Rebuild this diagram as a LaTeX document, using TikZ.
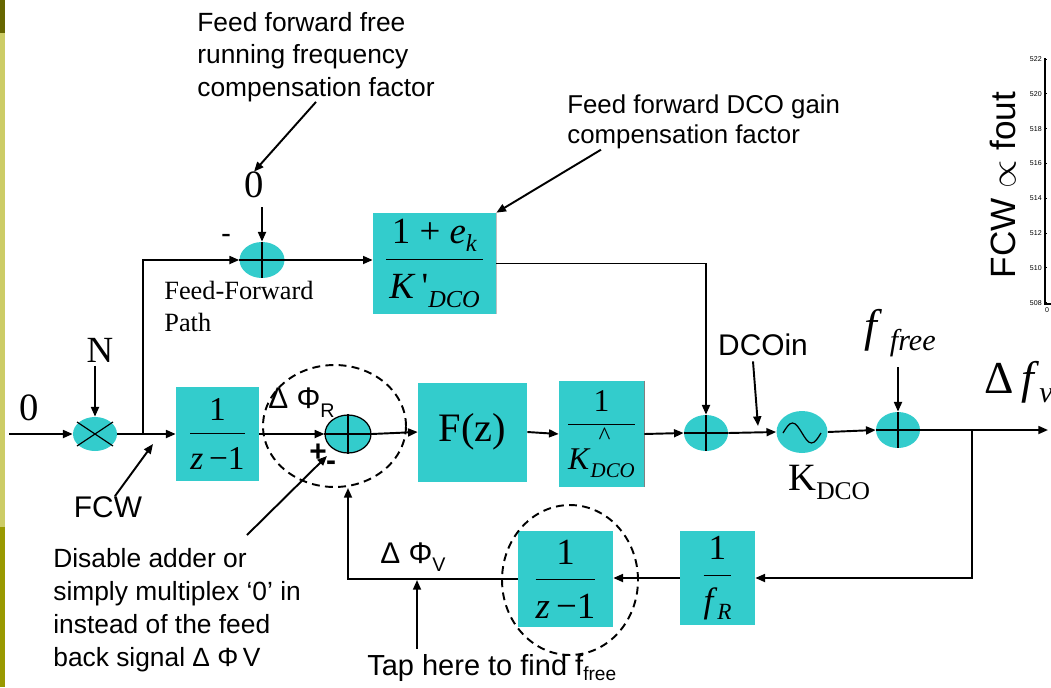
\documentclass[tikz,border=0pt]{standalone}
\usepackage{amsmath}
\usepackage{fontspec}
\setmainfont{Liberation Sans}
\newfontfamily\tms{Liberation Serif}
\usepackage{tikz}
\usetikzlibrary{arrows.meta,shapes.geometric}

\definecolor{boxcyan}{HTML}{33CCCC}
\definecolor{bardark}{HTML}{666600}
\definecolor{barlight}{HTML}{CCCC66}
\definecolor{barmid}{HTML}{999900}

\newcommand{\sz}[2]{\fontsize{#1}{#2}\selectfont}
\newcommand{\dn}[2][0.2em]{\raisebox{-#1}{\scalebox{0.66}{#2}}}
\newcommand{\bfrac}[3][0.12em]{$\genfrac{}{}{0.6pt}{0}%
  {\mbox{\hspace{#1}\rule[-0.22em]{0pt}{0.22em}#2\hspace{#1}}}{\mbox{\rule{0pt}{0.95em}#3}}$}
\newcommand{\sumcross}[1]{\draw[crossln] (#1.west) -- (#1.east) (#1.north) -- (#1.south);}

\tikzset{
  blk/.style={fill=boxcyan, inner sep=0pt},
  sumnode/.style={ellipse, fill=boxcyan, inner sep=0pt, minimum width=0.88cm, minimum height=0.72cm},
  grp/.style={ellipse, draw, dash pattern=on 4.5pt off 3pt, line width=1.1pt, inner sep=0pt},
  lbl/.style={inner sep=0pt},
  crossln/.style={line width=0.7pt},
  wire/.style={line width=1.1pt, -{Triangle[length=5.5pt,width=4.5pt]}},
}

\begin{document}
\begin{tikzpicture}[x=0.02cm, y=-0.02cm]
  \useasboundingbox (0,0) rectangle (1051,687);

  % Slide bar
  \fill[bardark] (0,0) rectangle (5,33);
  \fill[barlight] (0,33) rectangle (5,527);
  \fill[barmid] (0,527) rectangle (5,687);

  % Blocks
  \node[blk, minimum width=2.46cm, minimum height=2.02cm, font=\tms\sz{21}{25}] (ffbox) at (434.5,263.5)
    {\bfrac[0.15em]{1 + \textit{e}\dn{\textit{k}}}{\textit{K}\,\textquotesingle\dn[0.25em]{\textit{DCO}}}};
  \draw[gray!50, line width=0.8pt] (ffbox.north east) -- (ffbox.south east);
  \node[blk, minimum width=1.66cm, minimum height=1.88cm, font=\tms\sz{19}{22}] (intbox) at (217.5,434)
    {\bfrac{1}{\textit{z}\,−1}};
  \node[blk, minimum width=2.18cm, minimum height=1.98cm, font=\tms\sz{23}{27}] (filt) at (472.5,432) {F(z)};
  \node[blk, minimum width=1.70cm, minimum height=2.12cm, font=\tms\sz{18}{21}] (gainbox) at (601.5,434)
    {\bfrac{1}{\textit{K}\makebox[0pt][l]{\hspace{0.25em}\raisebox{0.8em}{\scalebox{0.8}{\textasciicircum}}}\dn[0.25em]{\textit{DCO}}}};
  \draw[gray, line width=0.6pt] (gainbox.north east) -- (gainbox.south east);
  \node[blk, minimum width=1.50cm, minimum height=1.88cm, font=\tms\sz{20}{23}] (frbox) at (717.5,578)
    {\bfrac{1}{\textit{f}\dn{\textit{R}}}};
  \node[blk, minimum width=1.90cm, minimum height=1.92cm, font=\tms\sz{21}{24}] (fbint) at (565.5,579)
    {\bfrac{1}{\textit{z}\,−1}};

  % Summers, multiplier and oscillator
  \node[sumnode, minimum height=0.68cm] (mult) at (95,434) {};
  \draw[crossln] ([shift={(-18,-12)}]mult.center) -- ([shift={(18,12)}]mult.center)
                 ([shift={(-18,12)}]mult.center) -- ([shift={(18,-12)}]mult.center);
  \node[sumnode, minimum width=0.9cm] (ffsum) at (262,260) {};
  \node[sumnode, draw, line width=0.7pt, minimum width=0.92cm, minimum height=0.76cm] (sumR) at (348,434) {};
  \node[sumnode] (sumD) at (706,433) {};
  \node[sumnode, minimum width=1.02cm, minimum height=0.84cm] (osc) at (802,432) {};
  \node[sumnode] (sumF) at (898,430) {};
  \sumcross{ffsum}
  \sumcross{sumR}
  \sumcross{sumD}
  \sumcross{sumF}
  \draw[crossln] ([shift={(-19,1)}]osc.center) sin ++(9.5,-10) cos ++(9.5,10) sin ++(9.5,10) cos ++(9.5,-10);

  % Dashed groups
  \node[grp, minimum width=2.86cm, minimum height=2.44cm] (grpR) at (334.5,426) {};
  \node[grp, minimum width=2.72cm, minimum height=3.0cm] (grpV) at (570,580) {};

  % Signal path
  \coordinate (inStart) at (9,434);
  \coordinate (ffTap) at (143,434);
  \coordinate (outEnd) at (1048,430);
  \coordinate (fbTap) at (972,430);
  \draw[wire] (inStart) -- (mult.west);
  \draw[wire] (mult.east) -- (intbox.west);
  \draw[wire] (ffTap) |- (ffsum.west);
  \draw[wire] (ffsum.east) -- (ffsum.east -| ffbox.west);
  \draw[wire] (ffbox.east) -| (sumD.north);
  \draw[wire] (intbox.east) -- (sumR.west);
  \draw[wire] (sumR.east) -- (filt.west);
  \draw[wire] (filt.east) -- (gainbox.west);
  \draw[wire] (gainbox.east) -- (sumD.west);
  \draw[wire] (sumD.east) -- (osc.west);
  \draw[wire] (osc.east) -- (sumF.west);
  \draw[wire] (sumF.east) -- (outEnd);
  \draw[wire] (fbTap) |- (frbox.east);
  \draw[wire] (frbox.west) -- (frbox.west -| fbint.east);
  \draw[wire] (fbint.west) -| (sumR |- grpR.south);

  % Labels
  \node[lbl, font=\tms\sz{22}{26}] (inZero) at (29,408) {0};
  \node[lbl, font=\tms\sz{21}{25}] (Nlab) at (100,350) {N};
  \node[lbl, font=\tms\sz{22}{26}] (zerotop) at (254,185) {0};
  \node[lbl, font=\sz{17}{20}] (minusFF) at (226,239) {-};
  \node[lbl, anchor=north west, align=left, font=\sz{15}{18.4}] (fftext) at (197,12)
    {Feed forward free\\running frequency\\compensation factor};
  \node[lbl, anchor=north west, align=left, font=\sz{14.7}{17.6}] (gaintext) at (567,94)
    {Feed forward DCO gain\\compensation factor};
  \node[lbl, anchor=north west, align=left, font=\tms\sz{15}{18}] (ffpath) at (164,281) {Feed-Forward\\Path};
  \node[lbl, font=\sz{17}{20}] (fcwlab) at (108,507) {FCW};
  \node[lbl, anchor=base west, font=\sz{17}{20}] (dphiR) at (268,408) {Δ Φ\dn[0.33em]{R}};
  \node[lbl, font=\sz{17}{20}\bfseries] (plusR) at (318,453) {+};
  \node[lbl, font=\sz{17}{20}\bfseries] (minusR) at (331,466) {-};
  \node[lbl, anchor=base west, font=\sz{17}{20}] (dphiV) at (380,563) {Δ Φ\dn[0.3em]{V}};
  \node[lbl, anchor=north west, align=left, font=\sz{15}{18.7}] (distext) at (53,548)
    {Disable adder or\\simply multiplex ‘0’ in\\instead of the feed\\back signal Δ Φ\,V};
  \node[lbl, anchor=north west, font=\sz{16.5}{20}] (taptext) at (367,654) {Tap here to find f\dn[0.18em]{free}};
  \node[lbl, font=\sz{17}{20}] (dcoin) at (763,345) {DCOin};
  \node[lbl, anchor=base west, font=\tms\sz{22}{26}] (kdco) at (788,490) {K\dn[0.25em]{DCO}};
  \node[lbl, anchor=base west, font=\tms\sz{26}{30}] (ffree) at (864,341) {\textit{f}\,\dn{\textit{free}}};
  \node[lbl, anchor=base west, font=\tms\sz{26}{30}] (dfv) at (984,393) {Δ\,\textit{f}\dn{\textit{v}}};
  \node[lbl, rotate=90, font=\sz{20}{24}] (fcwrot) at (1003,185) {FCW $\propto$ fout};

  % Annotation arrows
  \coordinate (fcwPt) at (153,444);
  \coordinate (disPt) at (327,456);
  \coordinate (tapPt) at (417,580);
  \coordinate (dcoinPt) at (758,426);
  \draw[wire] (fftext.south) -- (zerotop.north);
  \draw[wire, shorten <=5pt] (ffsum.north |- zerotop.south) -- (ffsum.north);
  \draw[wire] ([shift={(34,0)}]gaintext.south west) -- (ffbox.north east);
  \draw[wire, shorten <=2pt] (mult.north |- Nlab.south) -- (mult.north);
  \draw[wire] ([shift={(7,0)}]fcwlab.north) -- (fcwPt);
  \draw[wire] ([shift={(194,-13)}]distext.north west) -- (disPt);
  \draw[wire, shorten <=3pt] (tapPt |- taptext.north) -- (tapPt);
  \draw[wire] ([shift={(-10,5)}]dcoin.south) -- (dcoinPt);
  \draw[wire, shorten <=6pt] (sumF.north |- ffree.south) -- (sumF.north);

  % Plot axis at right edge
  \draw[line width=0.6pt] (1045,58) -- (1045,304) -- (1051,304);
  \foreach \k in {0,...,7} {
    \pgfmathtruncatemacro{\tickval}{522-2*\k}
    \node[lbl, anchor=east, font=\sz{4}{4}] (tick\k) at (1042,{59+34.8*\k}) {\tickval};
    \draw[line width=0.4pt] (1045,{59+34.8*\k}) -- ++(2,0);
  }
  \node[lbl, font=\sz{4}{4}] (xzero) at (1047,310) {0};
\end{tikzpicture}
\end{document}
